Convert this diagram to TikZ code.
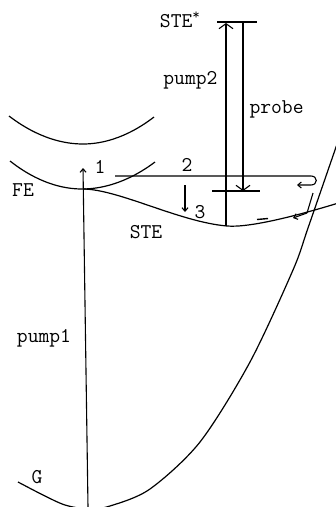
\documentclass[tikz,border=0pt]{standalone}
\usetikzlibrary{arrows.meta}
\begin{document}
\begin{tikzpicture}[x=1pt,y=-1pt,line width=1.1pt,
  lbl/.style={font=\ttfamily\fontsize{21}{21}\selectfont,inner sep=0pt},
  curve/.style={line width=1.2pt},
  wide/.style={-{Straight Barb[length=5pt,width=14pt]}},
  small/.style={-{Straight Barb[length=3.5pt,width=6pt]}}]
\useasboundingbox (0,0) rectangle (336,507);
\begin{scope}
\clip (0,0) rectangle (336,507);
% potential curves
\draw[curve] (9,116) parabola bend (83,144) (154,117);
\draw[curve] (10,161) parabola bend (82,189) (155,162);
\draw[curve] (84,189) .. controls (120,190) and (180,222) .. (227,226)
  .. controls (250,228) and (300,215) .. (345,201);
\draw[curve] plot[smooth] coordinates {(18,482) (43,495) (65,505) (88,509) (110,506) (150,489) (200,442) (250,362) (293,270) (308,228) (335,150) (342,130)};
\end{scope}
% coordinates
\coordinate (p1a) at (88,507);
\coordinate (p1b) at (83,168);
\coordinate (p2a) at (226,226);
\coordinate (p2b) at (226,23);
\coordinate (pra) at (243,22);
\coordinate (prb) at (243,191);
\coordinate (t1) at (217,22);
\coordinate (t2) at (257,22);
\coordinate (m1) at (212,191);
\coordinate (m2) at (260,191);
\coordinate (h0) at (115,176);
\coordinate (h1) at (311,176);
\coordinate (h2) at (311,185);
\coordinate (h3) at (297,185);
\coordinate (r1) at (313,193);
\coordinate (r2) at (307,213);
\coordinate (r3) at (293,218);
\coordinate (a3a) at (185,185);
\coordinate (a3b) at (185,212);
\coordinate (d1) at (257,219.5);
\coordinate (d2) at (268,218.5);
% levels
\draw (t1) -- (t2);
\draw (m1) -- (m2);
% transitions
\draw[small] (p1a) -- (p1b);
\draw[wide] (p2a) -- (p2b);
\draw[wide] (pra) -- (prb);
\draw[small] (h0) -- (h1) to[out=0,in=0,looseness=2] (h2) -- (h3);
\draw (r1) -- (r2);
\draw[small] (r2) -- (r3);
\draw[small] (a3a) -- (a3b);
\draw[line width=1.4pt] (d1) -- (d2);
% labels
\node[lbl] (g) at (37,477) {G};
\node[lbl] (fe) at (23,190) {FE};
\node[lbl] (ste) at (146,232) {STE};
\node[lbl] (pump1) at (44,338) {pump1};
\node[lbl,anchor=east] (pump2) at (218,80) {pump2};
\node[lbl,anchor=west] (probe) at (249,109) {probe};
\node[lbl,anchor=east] (stes) at (201,20) {STE\textsuperscript{*}};
\node[lbl] (one) at (100,167) {1};
\node[lbl] (two) at (187,165) {2};
\node[lbl] (three) at (200,212) {3};
\end{tikzpicture}
\end{document}
